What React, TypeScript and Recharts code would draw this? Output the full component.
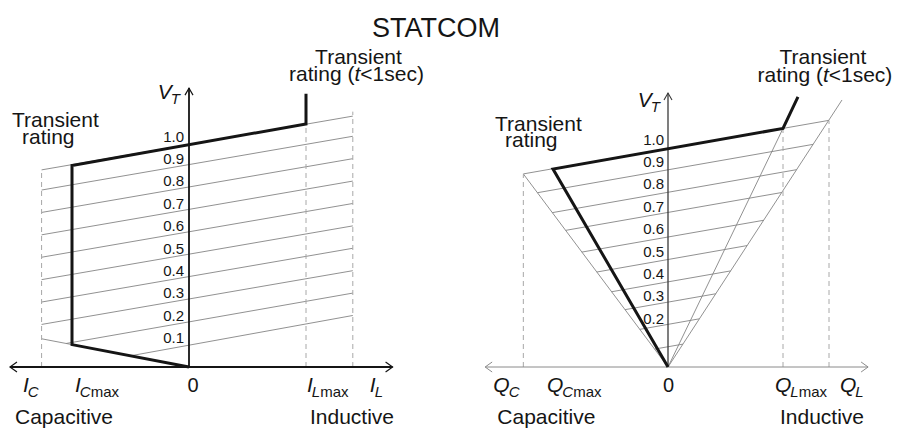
import React from 'react';
import { LineChart, Line, XAxis, YAxis, ReferenceDot } from 'recharts';

// ---------------- data (per-unit values) ----------------
// Left panel: terminal voltage V_T versus current I (I_Lmax = 1, I_Cmax = -1)
const leftVTicks = [1.0, 0.9, 0.8, 0.7, 0.6, 0.5, 0.4, 0.3, 0.2, 0.1];
const leftGrid: number[][] = [
  [-1.26, 0.88, 1.4, 1.12],
  [-1.26, 0.79, 1.4, 1.03],
  [-1.26, 0.69, 1.4, 0.93],
  [-1.26, 0.59, 1.4, 0.83],
  [-1.26, 0.49, 1.4, 0.73],
  [-1.26, 0.39, 1.4, 0.63],
  [-1.26, 0.29, 1.4, 0.53],
  [-1.26, 0.19, 1.4, 0.43],
  [-1.05, 0.105, 1.4, 0.33],
  [-0.5, 0.05, 1.4, 0.23],
];
const leftCapExtension: number[][] = [[-1.26, 0.126], [-1, 0.1]];
const leftRating: number[][] = [[0, 0], [-1, 0.1], [-1, 0.9], [1, 1.085], [1, 1.22]];
const leftDashed: number[][] = [[-1.26, 0.88], [1, 1.085], [1.4, 1.14]];
const leftAxisTop = 1.245;
const leftAxisEnds = [-1.53, 1.74];
const leftMarks = { IC: -1.26, ICmax: -1, zero: 0, ILmax: 1, IL: 1.4 };

// Right panel: V_T versus reactive power Q (Q_Lmax = 1, Q_Cmax = -1)
const rightVTicks = [1.0, 0.9, 0.8, 0.7, 0.6, 0.5, 0.4, 0.3, 0.2];
const rightGrid: number[][] = [
  [-1.258, 0.862, 1.398, 1.101],
  [-1.136, 0.778, 1.262, 0.994],
  [-1.007, 0.689, 1.119, 0.881],
  [-0.89, 0.61, 0.989, 0.779],
  [-0.749, 0.513, 0.832, 0.655],
  [-0.619, 0.424, 0.688, 0.542],
  [-0.49, 0.336, 0.545, 0.429],
  [-0.374, 0.256, 0.416, 0.327],
  [-0.245, 0.168, 0.272, 0.215],
  [-0.116, 0.08, 0.129, 0.102],
];
const rightRays: number[][] = [[-1.258, 0.862], [1.513, 1.192], [1, 1.065]];
const rightRating: number[][] = [[0, 0], [-1, 0.884], [1, 1.065], [1.13, 1.206]];
const rightDashed: number[][] = [[-1.258, 0.86], [1, 1.065], [1.4, 1.1]];
const rightAxisTop = 1.223;
const rightAxisEnds = [-1.59, 1.74];
const rightMarks = { QC: -1.258, QCmax: -1, zero: 0, QLmax: 1, QL: 1.4 };

const title = 'STATCOM';
const txtTransient = 'Transient';
const txtRating = 'rating';
const txtCap = 'Capacitive';
const txtInd = 'Inductive';

// ---------------- layout ----------------
const W = 898;
const H = 432;
const FONT = '"Liberation Sans", Arial, Helvetica, sans-serif';
const INK = '#151515';
const GRID = '#858585';
const DASH = '#a8a8a8';

const pts = (arr: number[][]) => arr.map(([x, y]) => ({ x, y }));
const seg = (r: number[]) => [{ x: r[0], y: r[1] }, { x: r[2], y: r[3] }];

const sym = (main: string, sub: string, rest?: string) => (
  <>
    <tspan fontStyle="italic">{main}</tspan>
    <tspan fontStyle="italic" fontSize={15} dy={5} dx={-1}>{sub}</tspan>
    {rest ? <tspan fontSize={15}>{rest}</tspan> : null}
  </>
);

const ratingT = (
  <>
    {'rating ('}
    <tspan fontStyle="italic">t</tspan>
    {'<1sec)'}
  </>
);

let keyN = 0;
const label = (
  xa: string, x: number, y: number, dx: number, dy: number,
  anchor: 'start' | 'middle' | 'end', size: number, content: React.ReactNode
) => (
  <ReferenceDot
    key={'lb' + keyN++}
    xAxisId={xa}
    yAxisId="V"
    x={x}
    y={y}
    r={0}
    ifOverflow="visible"
    shape={(p: any) => (
      <text x={p.cx + dx} y={p.cy + dy} textAnchor={anchor} fontSize={size} fontFamily={FONT} fill={INK}>
        {content}
      </text>
    )}
  />
);

const arrow = (xa: string, x: number, y: number, dir: 'l' | 'r' | 'u', color: string, sw: number) => (
  <ReferenceDot
    key={'ar' + keyN++}
    xAxisId={xa}
    yAxisId="V"
    x={x}
    y={y}
    r={0}
    ifOverflow="visible"
    shape={(p: any) => {
      const { cx, cy } = p;
      const d =
        dir === 'l'
          ? `M${cx + 7},${cy - 5} L${cx},${cy} L${cx + 7},${cy + 5}`
          : dir === 'r'
          ? `M${cx - 7},${cy - 5} L${cx},${cy} L${cx - 7},${cy + 5}`
          : `M${cx - 4},${cy + 7} L${cx},${cy} L${cx + 4},${cy + 7}`;
      return <path d={d} fill="none" stroke={color} strokeWidth={sw} />;
    }}
  />
);

const line = (xa: string, data: { x: number; y: number }[], stroke: string, sw: number, dash?: string) => (
  <Line
    key={'ln' + keyN++}
    xAxisId={xa}
    yAxisId="V"
    data={data}
    dataKey="y"
    type="linear"
    stroke={stroke}
    strokeWidth={sw}
    strokeDasharray={dash}
    strokeLinejoin="miter"
    dot={false}
    activeDot={false}
    isAnimationActive={false}
  />
);

export default function App() {
  keyN = 0;
  return (
    <div style={{ position: 'absolute', left: 0, top: 0, width: W, height: H, background: '#fff' }}>
      <div
        style={{
          position: 'absolute', left: 0, top: 15, width: 872, textAlign: 'center',
          fontFamily: FONT, fontSize: 27, lineHeight: '27px', color: INK,
        }}
      >
        {title}
      </div>
      <LineChart width={W} height={H} margin={{ top: 0, right: 0, bottom: 0, left: 0 }} style={{ position: 'absolute', left: 0, top: 0 }}>
        <XAxis xAxisId="L" type="number" dataKey="x" domain={[-189 / 117, (W - 189) / 117]} allowDataOverflow hide />
        <XAxis xAxisId="R" type="number" dataKey="x" domain={[-668 / 115, (W - 668) / 115]} allowDataOverflow hide />
        <YAxis yAxisId="V" type="number" domain={[-(H - 367) / 224, 367 / 224]} allowDataOverflow hide />

        {/* ---- left panel ---- */}
        {leftGrid.map((r) => line('L', seg(r), GRID, 0.9))}
        {line('L', pts(leftCapExtension), GRID, 0.9)}
        {leftDashed.map(([x, top]) => line('L', [{ x, y: 0 }, { x, y: top }], DASH, 1, '5 4'))}
        {line('L', [{ x: 0, y: 0 }, { x: 0, y: leftAxisTop }], INK, 1.8)}
        {line('L', [{ x: leftAxisEnds[0], y: 0 }, { x: leftAxisEnds[1], y: 0 }], INK, 1.8)}
        {line('L', pts(leftRating), INK, 3)}

        {/* ---- right panel ---- */}
        {rightGrid.map((r) => line('R', seg(r), GRID, 0.9))}
        {rightRays.map(([x, y]) => line('R', [{ x: 0, y: 0 }, { x, y }], GRID, 0.9))}
        {rightDashed.map(([x, top]) => line('R', [{ x, y: 0 }, { x, y: top }], DASH, 1, '5 4'))}
        {line('R', [{ x: 0, y: 0 }, { x: 0, y: rightAxisTop }], '#3a3a3a', 1.3)}
        {line('R', [{ x: rightAxisEnds[0], y: 0 }, { x: rightAxisEnds[1], y: 0 }], '#8a8a8a', 1)}
        {line('R', pts(rightRating), INK, 3)}

        {/* arrows */}
        {arrow('L', 0, leftAxisTop, 'u', INK, 1.2)}
        {arrow('L', leftAxisEnds[0], 0, 'l', INK, 1.2)}
        {arrow('L', leftAxisEnds[1], 0, 'r', INK, 1.2)}
        {arrow('R', 0, rightAxisTop, 'u', '#3a3a3a', 1.1)}
        {arrow('R', rightAxisEnds[0], 0, 'l', '#8a8a8a', 1)}
        {arrow('R', rightAxisEnds[1], 0, 'r', '#8a8a8a', 1)}

        {/* V tick labels */}
        {leftVTicks.map((v) => label('L', 0, v, -5, -1.5, 'end', 15, v.toFixed(1)))}
        {rightVTicks.map((v) => label('R', 0, v, -4, 1.5, 'end', 15, v.toFixed(1)))}

        {/* axis names */}
        {label('L', 0, leftAxisTop, -9, 11, 'end', 21, sym('V', 'T'))}
        {label('R', 0, rightAxisTop, -8, 13.5, 'end', 21, sym('V', 'T'))}

        {/* left x labels */}
        {label('L', leftMarks.IC, 0, -18.6, 25, 'start', 21, sym('I', 'C'))}
        {label('L', leftMarks.ICmax, 0, 3, 25, 'start', 21, sym('I', 'C', 'max'))}
        {label('L', leftMarks.zero, 0, 4, 25, 'middle', 20, '0')}
        {label('L', leftMarks.ILmax, 0, 1, 25, 'start', 21, sym('I', 'L', 'max'))}
        {label('L', leftMarks.IL, 0, 17, 25, 'start', 21, sym('I', 'L'))}
        {label('L', leftMarks.IC, 0, -26.6, 57, 'start', 21, txtCap)}
        {label('L', leftMarks.ILmax, 0, 4, 57, 'start', 21, txtInd)}

        {/* right x labels */}
        {label('R', rightMarks.QC, 0, -30, 25, 'start', 21, sym('Q', 'C'))}
        {label('R', rightMarks.QCmax, 0, -6, 25, 'start', 21, sym('Q', 'C', 'max'))}
        {label('R', rightMarks.zero, 0, 0.5, 25, 'middle', 20, '0')}
        {label('R', rightMarks.QLmax, 0, -8, 25, 'start', 21, sym('Q', 'L', 'max'))}
        {label('R', rightMarks.QL, 0, 11, 25, 'start', 21, sym('Q', 'L'))}
        {label('R', rightMarks.QC, 0, -26, 57, 'start', 21, txtCap)}
        {label('R', rightMarks.QLmax, 0, -3, 57, 'start', 21, txtInd)}

        {/* annotations */}
        {label('L', 1, 1.22, 52.5, -30, 'middle', 21, txtTransient)}
        {label('L', 1, 1.22, 50.5, -12.5, 'middle', 21, ratingT)}
        {label('R', 1.13, 1.206, 25, -33, 'middle', 21, txtTransient)}
        {label('R', 1.13, 1.206, 27, -15, 'middle', 21, ratingT)}
        {label('L', -1, 0.9, -60, -38.5, 'start', 21, txtTransient)}
        {label('L', -1, 0.9, -50, -21, 'start', 21, txtRating)}
        {label('R', -1, 0.884, -58, -38, 'start', 21, txtTransient)}
        {label('R', -1, 0.884, -48, -22, 'start', 21, txtRating)}
      </LineChart>
    </div>
  );
}
